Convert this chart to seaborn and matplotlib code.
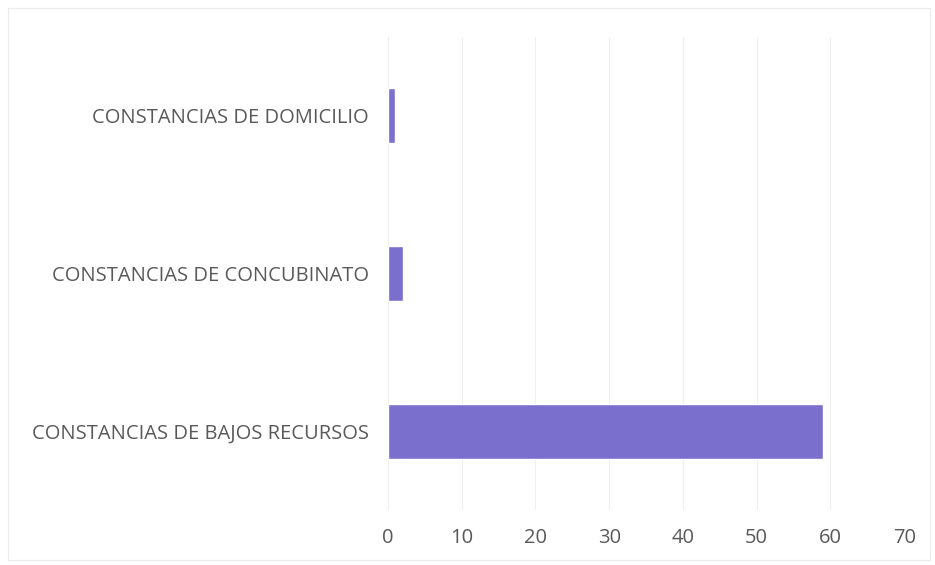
import matplotlib.pyplot as plt
import pandas as pd
import seaborn as sns
from matplotlib.patches import Rectangle

categorias = ["CONSTANCIAS DE DOMICILIO", "CONSTANCIAS DE CONCUBINATO", "CONSTANCIAS DE BAJOS RECURSOS"]
valores = [1, 2, 59]
ticks_x = [0, 10, 20, 30, 40, 50, 60, 70]

df = pd.DataFrame({"categoria": categorias, "valor": valores})

sns.set_style("white")
plt.rcParams["font.family"] = ["Open Sans", "DejaVu Sans"]

fig = plt.figure(figsize=(9.35, 5.65), dpi=100)
ax = fig.add_axes([0.415, 0.097, 0.552, 0.838])

sns.barplot(data=df, x="valor", y="categoria", color="#7a6fcc", width=0.35,
            saturation=1, ax=ax, zorder=3)

ax.set_xlim(0, 70)
ax.set_xticks(ticks_x)
ax.grid(axis="x", color="#efefef", linewidth=0.8, zorder=0)
ax.set_xlabel("")
ax.set_ylabel("")
for s in ax.spines.values():
    s.set_visible(False)
ax.tick_params(axis="both", length=0, labelsize=14.5, labelcolor="#595959")
ax.tick_params(axis="x", pad=13)
ax.tick_params(axis="y", pad=14)

# marco tenue del area del grafico
fig.patches.append(Rectangle((0.009, 0.009), 0.986, 0.977, transform=fig.transFigure,
                             fill=False, edgecolor="#ececec", linewidth=0.8))

fig.savefig("out.png", dpi=100)
